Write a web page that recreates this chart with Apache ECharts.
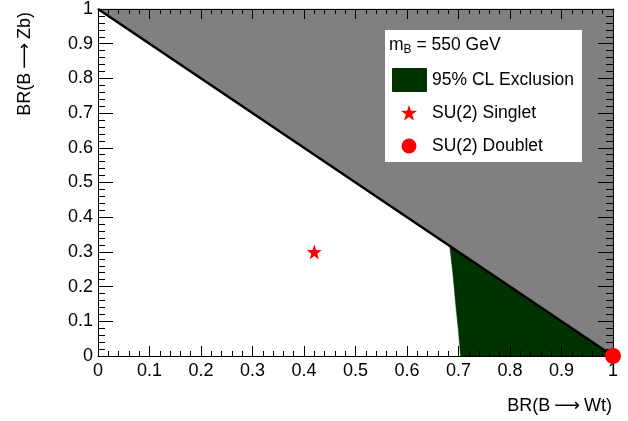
<!DOCTYPE html>
<html lang="en">

<head>
  <meta charset="UTF-8">
  <script type="text/javascript" src="https://cdn.jsdelivr.net/npm/echarts@6/dist/echarts.min.js"></script>
  <title>BR exclusion</title>
  <style>
    html,
    body {
      margin: 0;
      background: #fff;
    }

    #main {
      width: 628px;
      height: 421px;
    }
  </style>
</head>

<body>
  <div id="main"></div>

  <script type="text/javascript">
    // unphysical region: BR(Wt) + BR(Zb) > 1
    var forbiddenRegion = [[0, 1], [1, 1], [1, 0]];
    var diagonal = [[0, 1], [1, 0]];
    // 95% CL exclusion contour (left edge), closes on the diagonal
    var exclusionEdge = [[0.704, 0], [0.700, 0.07], [0.695, 0.143], [0.689, 0.239], [0.683, 0.317], [1, 0]];
    var singlet = [[0.42, 0.30]];
    var doublet = [[1, 0]];

    var font = 'Liberation Sans, Arial, sans-serif';

    function starPoints(cx, cy, r) {
      var pts = [];
      for (var i = 0; i < 10; i++) {
        var rr = i % 2 === 0 ? r : r * 0.4;
        var a = -Math.PI / 2 + i * Math.PI / 5;
        pts.push([cx + rr * Math.cos(a), cy + rr * Math.sin(a)]);
      }
      return pts;
    }

    function starPath() {
      var p = starPoints(0, 0, 10);
      var s = 'path://M' + p[0][0].toFixed(3) + ' ' + p[0][1].toFixed(3);
      for (var i = 1; i < p.length; i++) {
        s += 'L' + p[i][0].toFixed(3) + ' ' + p[i][1].toFixed(3);
      }
      return s + 'Z';
    }

    function polygonSeries(points, color, z) {
      return {
        type: 'custom',
        z: z,
        silent: true,
        clip: false,
        data: [0],
        renderItem: function (params, api) {
          return {
            type: 'polygon',
            shape: { points: points.map(function (p) { return api.coord(p); }) },
            style: { fill: color, stroke: color, lineWidth: 0.5 }
          };
        }
      };
    }

    function makeX(pos, showLabel) {
      return {
        type: 'value', position: pos, min: 0, max: 1, interval: 0.1, z: 10,
        axisLine: { show: true, onZero: false, lineStyle: { color: '#000', width: 1 } },
        axisTick: { show: true, inside: true, length: 10, lineStyle: { color: '#000', width: 1 } },
        minorTick: { show: true, splitNumber: 5, length: 5, lineStyle: { color: '#000', width: 1 } },
        splitLine: { show: false },
        axisLabel: { show: showLabel, color: '#000', fontSize: 18, fontFamily: font, margin: 6 }
      };
    }

    function makeY(pos, showLabel) {
      return {
        type: 'value', position: pos, min: 0, max: 1, interval: 0.1, z: 10,
        axisLine: { show: true, onZero: false, lineStyle: { color: '#000', width: 1 } },
        axisTick: { show: true, inside: true, length: 15, lineStyle: { color: '#000', width: 1 } },
        minorTick: { show: true, splitNumber: 5, length: 7, lineStyle: { color: '#000', width: 1 } },
        splitLine: { show: false },
        axisLabel: { show: showLabel, color: '#000', fontSize: 18, fontFamily: font, margin: 5 }
      };
    }

    // axis title with a long arrow, like the ROOT symbol font
    function brTitle(decay) {
      return {
        text: 'BR(B{arr|\u27F6}' + decay + ')',
        fill: '#000', font: '18px ' + font,
        align: 'right', verticalAlign: 'middle',
        rich: {
          arr: {
            fontSize: 18, fontFamily: 'DejaVu Sans', fill: '#000',
            padding: [0, 4, 0, 4]
          }
        }
      };
    }

    var chart = echarts.init(document.getElementById('main'), null, { renderer: 'canvas' });

    var legendFont = '17.5px ' + font;

    var option = {
      animation: false,
      backgroundColor: '#fff',
      grid: { left: 98, right: 15, top: 7, bottom: 65 },
      xAxis: [makeX('bottom', true), makeX('top', false)],
      yAxis: [makeY('left', true), makeY('right', false)],
      series: [
        polygonSeries(forbiddenRegion, '#808080', 2),
        polygonSeries(exclusionEdge, '#003300', 3),
        {
          type: 'line', data: diagonal, z: 5, symbol: 'none', silent: true,
          lineStyle: { color: '#000', width: 2.5 }
        },
        {
          name: 'SU(2) Singlet', type: 'scatter', data: singlet, z: 20, clip: false,
          symbol: starPath(), symbolSize: 15, itemStyle: { color: '#ff0000', opacity: 1 }
        },
        {
          name: 'SU(2) Doublet', type: 'scatter', data: doublet, z: 20, clip: false,
          symbol: 'circle', symbolSize: 16, itemStyle: { color: '#ff0000', opacity: 1 }
        }
      ],
      graphic: [
        { type: 'text', x: 612, y: 406, z: 30, style: brTitle('Wt') },
        { type: 'text', x: 25, y: 12, rotation: Math.PI / 2, z: 30, style: brTitle('Zb') },
        {
          type: 'rect', shape: { x: 385, y: 30, width: 197, height: 132 }, z: 30,
          style: { fill: '#fff' }
        },
        {
          type: 'text', x: 389, y: 45, z: 31,
          style: {
            text: 'm{sub|B} = 550 GeV', fill: '#000', font: legendFont, verticalAlign: 'middle',
            rich: { sub: { fontSize: 12, fontFamily: font, fill: '#000', padding: [10, 0, 0, 0] } }
          }
        },
        {
          type: 'rect', shape: { x: 392, y: 68, width: 35, height: 24, r: 1 }, z: 31,
          style: { fill: '#003300' }
        },
        {
          type: 'text', x: 432, y: 80, z: 31,
          style: { text: '95% CL Exclusion', fill: '#000', font: legendFont, verticalAlign: 'middle' }
        },
        {
          type: 'polygon', shape: { points: starPoints(409, 113.5, 8.5) }, z: 31,
          style: { fill: '#ff0000' }
        },
        {
          type: 'text', x: 432, y: 113, z: 31,
          style: { text: 'SU(2) Singlet', fill: '#000', font: legendFont, verticalAlign: 'middle' }
        },
        {
          type: 'circle', shape: { cx: 409, cy: 146, r: 7.5 }, z: 31,
          style: { fill: '#ff0000' }
        },
        {
          type: 'text', x: 432, y: 146, z: 31,
          style: { text: 'SU(2) Doublet', fill: '#000', font: legendFont, verticalAlign: 'middle' }
        }
      ]
    };

    chart.setOption(option);
    window.addEventListener('resize', chart.resize);
  </script>
</body>

</html>
